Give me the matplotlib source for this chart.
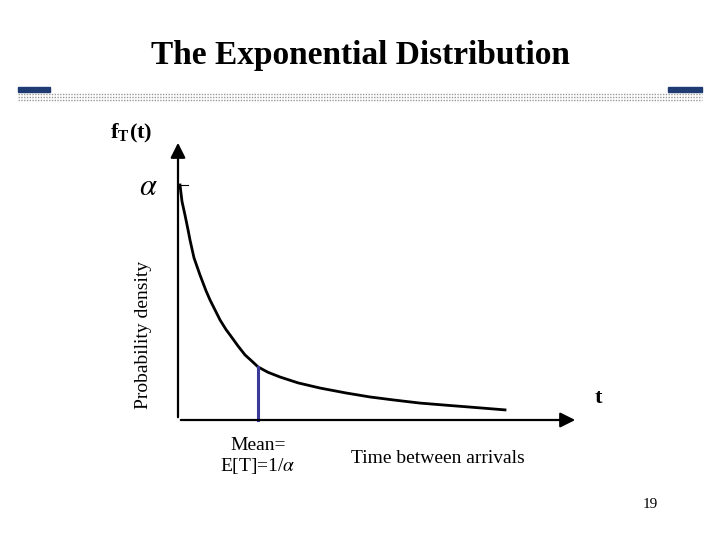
import matplotlib
matplotlib.use("Agg")
import matplotlib.pyplot as plt
import numpy as np

t_vals = [0.05, 0.1, 0.175, 0.25, 0.3, 0.4, 0.55, 0.7, 0.8, 0.95, 1.05, 1.2, 1.3, 1.5, 1.675, 1.85, 2.0, 2.25, 2.55, 3.0, 3.55, 4.2, 4.8, 5.4, 6.05, 6.7, 7.3, 8.175]
f_vals = [1.0, 0.93, 0.872, 0.81, 0.766, 0.69, 0.617, 0.55, 0.511, 0.46, 0.426, 0.385, 0.362, 0.315, 0.277, 0.25, 0.226, 0.203, 0.183, 0.158, 0.136, 0.115, 0.098, 0.085, 0.072, 0.063, 0.055, 0.043]
mean_t = 2.0
mean_f = 0.226

plt.rcParams['font.family'] = ['Liberation Serif', 'DejaVu Serif']
plt.rcParams['mathtext.fontset'] = 'stix'
fig = plt.figure(figsize=(7.2, 5.4), dpi=100)
ax = fig.add_axes([0, 0, 1, 1])
ax.set_xlim(-178/40, (720-178)/40)
ax.set_ylim(-120/235, 420/235)
ax.axis('off')

# title and header band
fig.text(0.5, 0.897, "The Exponential Distribution", ha='center', va='center',
         fontsize=24, fontweight='bold')
fig.add_artist(plt.Rectangle((18/720, 1-92/540), 32/720, 5/540, color='#1f3b73', transform=fig.transFigure))
fig.add_artist(plt.Rectangle((668/720, 1-92/540), 34/720, 5/540, color='#1f3b73', transform=fig.transFigure))
for yy in (94, 97, 100):
    fig.add_artist(plt.Line2D([18/720, 702/720], [1-yy/540]*2, color='#999999', lw=1.0,
                              ls=(0, (1, 1)), transform=fig.transFigure))

# axes with arrows
ax.annotate('', xy=(0, 280/235), xytext=(0, 0),
            arrowprops=dict(arrowstyle='-|>,head_width=0.45,head_length=0.9', color='black', lw=1.6))
ax.annotate('', xy=(10, 0), xytext=(0, 0),
            arrowprops=dict(arrowstyle='-|>,head_width=0.45,head_length=0.9', color='black', lw=1.6))
ax.plot([0, 0.25], [1.0, 1.0], color='black', lw=0.8)

ax.plot(t_vals, f_vals, color='black', lw=2, solid_joinstyle='round')
ax.plot([mean_t, mean_t], [0, mean_f], color='#3a3a9a', lw=2.2)

ax.text(-1.7, 1.218, r"f$_\mathregular{T}$(t)", fontsize=16, fontweight='bold', va='center')
ax.text(-0.75, 0.99, r"$\alpha$", fontsize=22, ha='center', va='center')
ax.text(-0.85, 0.36, "Probability density", rotation=90, fontsize=14, ha='center', va='center')
ax.text(10.5, 0.095, "t", fontsize=16, fontweight='bold', ha='center', va='center')
ax.text(2.0, -0.155, "Mean=\nE[T]=1/$\\alpha$", fontsize=14, ha='center', va='center', linespacing=1.1)
ax.text(6.5, -0.165, "Time between arrivals", fontsize=14, ha='center', va='center')
ax.text(11.8, -0.36, "19", fontsize=11, ha='center', va='center')

fig.savefig("out.png", dpi=100)
